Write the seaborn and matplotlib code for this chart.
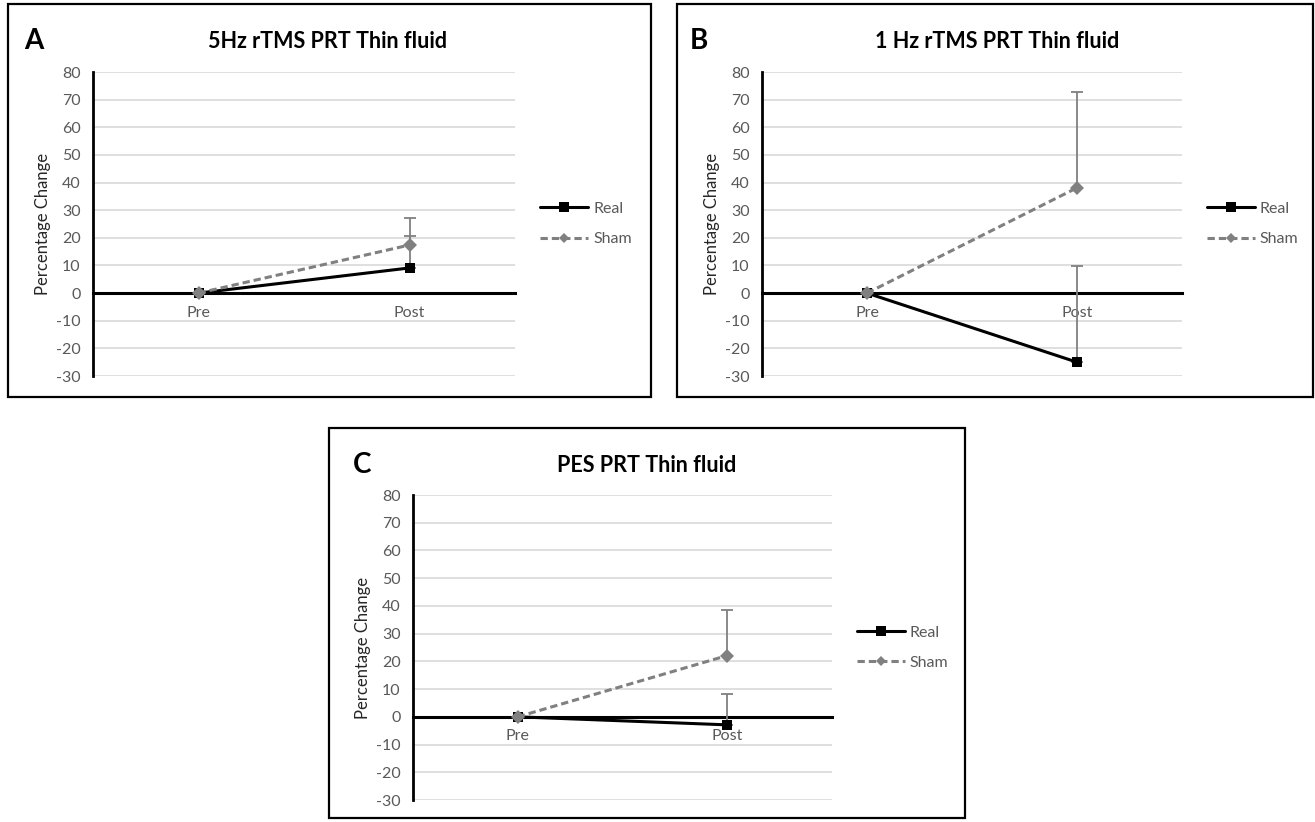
import pandas as pd
import matplotlib
matplotlib.use("Agg")
import matplotlib.pyplot as plt
import seaborn as sns
from matplotlib.patches import Rectangle
from matplotlib.lines import Line2D

# -----------------------------
# Data
# -----------------------------
times = ["Pre", "Post"]
groups = ["Real", "Sham"]
panel_letters = ["A", "B", "C"]
panel_titles = ["5Hz rTMS PRT Thin fluid", "1 Hz rTMS PRT Thin fluid", "PES PRT Thin fluid"]

real_values = [[0, 9.1], [0, -25.0], [0, -2.9]]
sham_values = [[0, 17.4], [0, 38.1], [0, 22.1]]
# only the upper (plus) error bar is drawn, as in the Excel original
real_err_up = [[0, 11.4], [0, 34.7], [0, 11.3]]
sham_err_up = [[0, 9.8], [0, 34.6], [0, 16.3]]

y_ticks = list(range(-30, 81, 10))

# -----------------------------
# Layout (figure is 1315 x 822 px)
# -----------------------------
W, H = 1315, 822
# panel box (x0, y0, x1, y1) and plot area (x0, y0, x1, y1) in pixels from top-left
boxes = [(8, 4, 651, 397), (677, 4, 1313, 397), (329, 428, 965, 818)]
plot_areas = [(93, 72, 515, 376), (762, 72, 1182, 376), (413, 495, 832, 800)]
title_pos = [(328, 41), (997, 41), (647, 465)]
letter_pos = [(24, 41), (690, 41), (353, 465)]

GRID = "#d9d9d9"
TEXT = "#595959"
SHAM = "#808080"

sns.set_theme(style="white")
plt.rcParams["font.family"] = ["Lato", "DejaVu Sans"]
plt.rcParams["axes.unicode_minus"] = False

fig = plt.figure(figsize=(W / 100, H / 100), dpi=100)


def px_rect(x0, y0, x1, y1):
    return [x0 / W, 1 - y1 / H, (x1 - x0) / W, (y1 - y0) / H]


for i in range(3):
    # outer frame of the panel
    bx = px_rect(*boxes[i])
    fig.patches.append(Rectangle((bx[0], bx[1]), bx[2], bx[3], transform=fig.transFigure,
                                 fill=False, edgecolor="black", linewidth=1.6))

    ax = fig.add_axes(px_rect(*plot_areas[i]))

    df = pd.DataFrame({
        "pos": [0, 1, 0, 1],
        "group": ["Real", "Real", "Sham", "Sham"],
        "value": real_values[i] + sham_values[i],
        "err": real_err_up[i] + sham_err_up[i],
    })

    sns.lineplot(data=df, x="pos", y="value", hue="group", style="group",
                 hue_order=groups, style_order=groups,
                 palette={"Real": "black", "Sham": SHAM},
                 markers={"Real": "s", "Sham": "D"},
                 dashes={"Real": "", "Sham": (2.4, 1.3)},
                 markersize=7, linewidth=2.2, markeredgewidth=0,
                 errorbar=None, legend=False, sort=False, ax=ax, zorder=4)

    # upper error bars at Post
    post = df[df["pos"] == 1]
    ax.errorbar(post["pos"], post["value"], yerr=[[0] * len(post), post["err"]],
                fmt="none", ecolor=SHAM, elinewidth=1.3, capsize=4, capthick=1.3, zorder=3)

    ax.set_xlim(-0.5, 1.5)
    ax.set_ylim(-30, 80)
    ax.set_yticks(y_ticks)
    ax.set_xticks([0, 1])
    ax.set_xticklabels(times)
    ax.set_xlabel("")
    ax.set_ylabel("Percentage Change", fontsize=12, color="#262626")
    ax.yaxis.set_label_coords(-0.10, 0.5)

    ax.yaxis.grid(True, color=GRID, linewidth=1.2)
    ax.set_axisbelow(True)
    for side in ["top", "right"]:
        ax.spines[side].set_visible(False)
    ax.spines["left"].set_linewidth(2)
    ax.spines["left"].set_color("black")
    ax.spines["bottom"].set_position(("data", 0))
    ax.spines["bottom"].set_linewidth(2.2)
    ax.spines["bottom"].set_color("black")
    ax.tick_params(axis="both", length=0, labelsize=11.5, colors=TEXT)
    ax.tick_params(axis="y", pad=9)
    ax.tick_params(axis="x", pad=9)

    handles = [
        Line2D([], [], color="black", linewidth=2.2, marker="s", markersize=7, markeredgewidth=0),
        Line2D([], [], color=SHAM, linewidth=2.2, linestyle=(0, (2.4, 1.3)), marker="D",
               markersize=5.5, markeredgewidth=0),
    ]
    leg = ax.legend(handles, groups, loc="center left", bbox_to_anchor=(1.06, 0.5),
                    frameon=False, fontsize=11.5, handlelength=3.0, handletextpad=0.3,
                    labelspacing=1.0, borderaxespad=0, borderpad=0)
    for t in leg.get_texts():
        t.set_color(TEXT)

    tx, ty = title_pos[i]
    fig.text(tx / W, 1 - ty / H, panel_titles[i], ha="center", va="center",
             fontsize=15.5, fontweight="bold", color="black")
    lx, ly = letter_pos[i]
    fig.text(lx / W, 1 - ly / H, panel_letters[i], ha="left", va="center",
             fontsize=20, fontweight="bold", color="black")

fig.savefig("out.png", dpi=100)
